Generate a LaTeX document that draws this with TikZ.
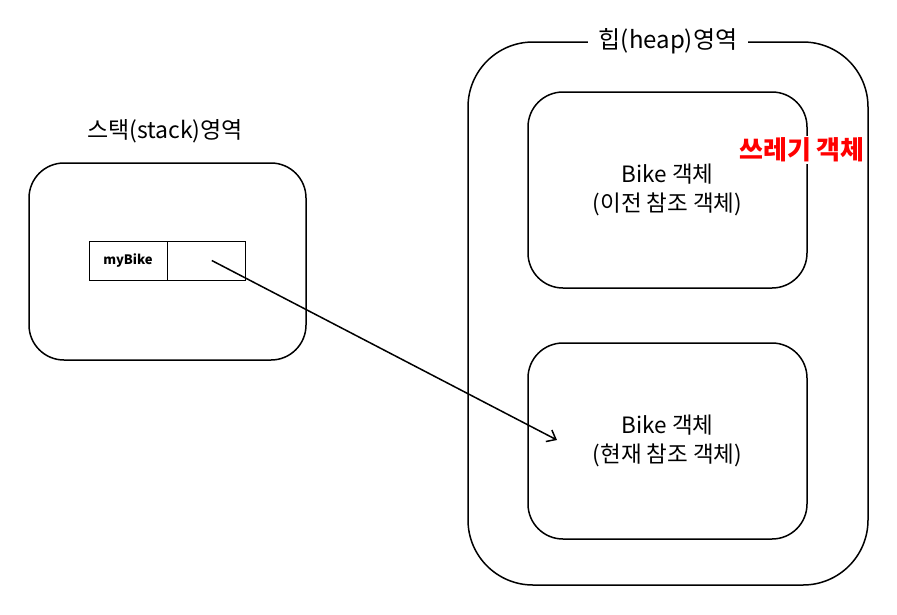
\documentclass[tikz,border=0pt]{standalone}
\usepackage{fontspec}
\setmainfont{Noto Sans CJK KR}
\usetikzlibrary{positioning, arrows.meta}

\begin{document}
\begin{tikzpicture}[x=1pt, y=-1pt, line width=1.5pt,
  area/.style = {draw, rounded corners=35pt},
  cell/.style = {draw, line width=0.8pt, minimum width=78pt, minimum height=39pt, inner sep=0pt, font=\fontsize{13}{15}\selectfont\bfseries},
  obj/.style = {area, minimum width=279pt, minimum height=196pt, align=center, font=\fontsize{22.5}{29}\selectfont}]
\useasboundingbox (0,0) rectangle (897,614);
\node[area, rounded corners=65pt, minimum width=400pt, minimum height=543pt] (heap) at (668,313.5) {};
\node[fill=white, inner xsep=11pt, font=\fontsize{24}{26}\selectfont] (heapt) at (heap.north) {힙(heap)영역};
\node[area, minimum width=277pt, minimum height=197pt] (stack) at (167.5,261.5) {};
\node[font=\fontsize{23}{26}\selectfont] (stackt) at (165,131) {스택(stack)영역};
\node[cell] (var) at (128,260.5) {myBike};
\node[cell] (ptr)[right = 0pt of var] {};
\node[obj] (old) at (667.5,190) {Bike 객체\\(이전 참조 객체)};
\node[obj] (new) at (667.5,441) {Bike 객체\\(현재 참조 객체)};
\node[fill=white, text=red, inner sep=2pt, font=\fontsize{26}{28}\selectfont\bfseries] (garbage) at (802,150) {쓰레기 객체};
\coordinate (tip) at (557,440);
\draw[-{Straight Barb[length=8pt, width=13pt]}, line width=1.5pt] ([xshift=5pt]ptr.center) -- (tip);
\end{tikzpicture}
\end{document}
